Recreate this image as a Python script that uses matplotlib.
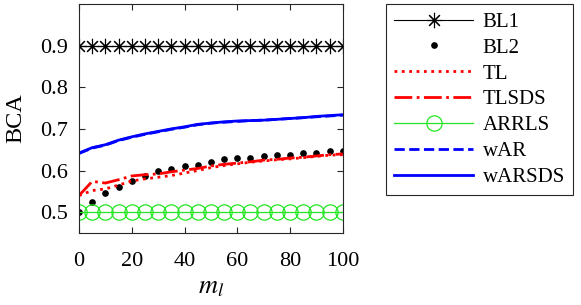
import numpy as np
import matplotlib
matplotlib.use("Agg")
import matplotlib.pyplot as plt

plt.rcParams['font.family'] = ['Liberation Serif', 'DejaVu Serif']
plt.rcParams['mathtext.fontset'] = 'stix'

# data
m_l = [0, 5, 10, 15, 20, 25, 30, 35, 40, 45, 50, 55, 60, 65, 70, 75, 80, 85, 90, 95, 100]
bl1 = [0.9] * 21
bl2 = [0.500, 0.524, 0.545, 0.560, 0.574, 0.588, 0.599, 0.603, 0.611, 0.614, 0.620,
       0.627, 0.630, 0.630, 0.635, 0.637, 0.637, 0.641, 0.643, 0.648, 0.648]
tl = [0.540, 0.552, 0.556, 0.565, 0.575, 0.580, 0.584, 0.588, 0.594, 0.600, 0.607,
      0.612, 0.616, 0.620, 0.623, 0.626, 0.628, 0.631, 0.634, 0.637, 0.638]
tlsds = [0.540, 0.574, 0.570, 0.578, 0.587, 0.590, 0.592, 0.597, 0.601, 0.605, 0.611,
         0.615, 0.618, 0.621, 0.625, 0.627, 0.630, 0.632, 0.635, 0.638, 0.640]
arrls = [0.5] * 21
war = [0.641, 0.654, 0.661, 0.672, 0.680, 0.687, 0.693, 0.699, 0.704, 0.710, 0.714,
       0.716, 0.718, 0.720, 0.721, 0.723, 0.725, 0.727, 0.729, 0.731, 0.733]
warsds = [0.642, 0.655, 0.662, 0.673, 0.681, 0.688, 0.694, 0.700, 0.705, 0.711, 0.714,
          0.717, 0.719, 0.720, 0.721, 0.723, 0.725, 0.727, 0.730, 0.732, 0.734]

fig = plt.figure(figsize=(5.81, 3.05), dpi=100)
ax = fig.add_axes([0.136, 0.236, 0.454, 0.751])

ax.plot(m_l, bl1, color='black', lw=0.8, marker=(8, 2, 0), ms=11, mew=0.8, label='BL1')
ax.plot(m_l, bl2, color='black', ls='none', marker='o', ms=3.8, label='BL2')
ax.plot(m_l, tl, color='red', ls=':', lw=2, label='TL')
ax.plot(m_l, tlsds, color='red', ls='-.', lw=2, label='TLSDS')
ax.plot(m_l, arrls, color='#22e622', lw=0.9, marker='o', ms=11, mfc='none', mew=0.9,
        label='ARRLS')
ax.plot(m_l, war, color='blue', ls='--', lw=2, label='wAR')
ax.plot(m_l, warsds, color='blue', ls='-', lw=2, label='wARSDS')

ax.set_xlim(0, 100)
ax.set_ylim(0.45, 1.0)
ax.set_xticks([0, 20, 40, 60, 80, 100])
ax.set_yticks([0.5, 0.6, 0.7, 0.8, 0.9])
ax.tick_params(direction='in', top=True, right=True, labelsize=16, length=4,
               color='#262626')
ax.tick_params(axis='x', pad=14)
ax.tick_params(axis='y', pad=8)
for s in ax.spines.values():
    s.set_color('#262626')
    s.set_linewidth(0.8)
ax.set_xlabel(r'$m_l$', fontsize=19, labelpad=4)
ax.set_ylabel('BCA', fontsize=17.5, labelpad=10)

leg = fig.legend(loc='upper left', bbox_to_anchor=(0.664, 0.987), fontsize=15,
                 handlelength=3.8, handletextpad=0.45, labelspacing=0.3,
                 borderpad=0.4, borderaxespad=0, fancybox=False, framealpha=1)
leg.get_frame().set_edgecolor('#262626')
leg.get_frame().set_linewidth(0.8)

fig.savefig('out.png', dpi=100)
